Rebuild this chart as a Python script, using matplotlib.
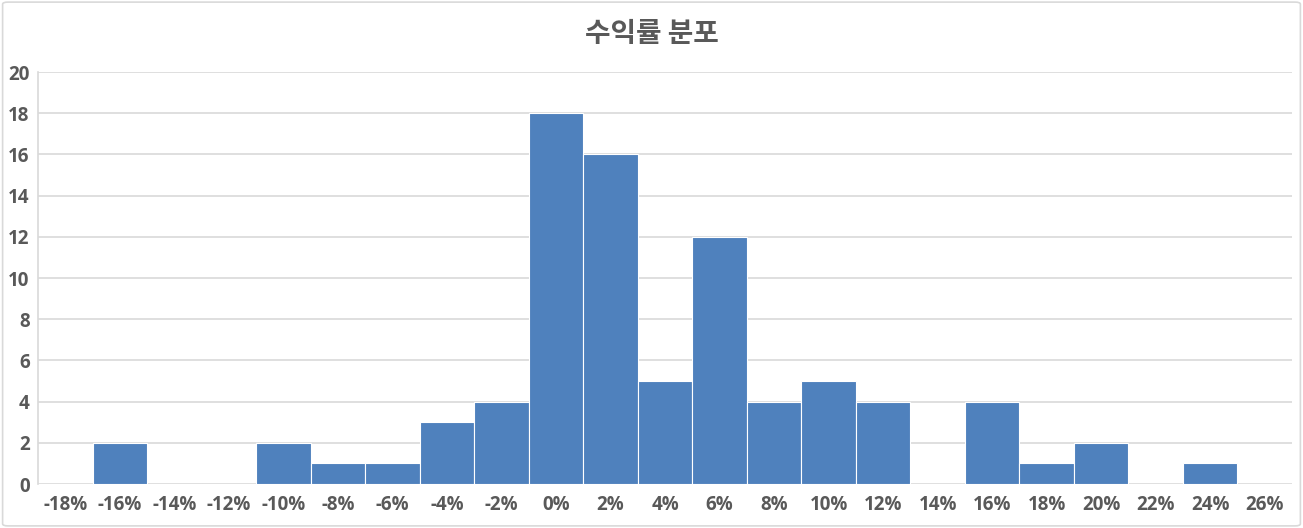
import matplotlib
matplotlib.use("Agg")
import matplotlib.pyplot as plt
from matplotlib.patches import FancyBboxPatch

bins = [-18, -16, -14, -12, -10, -8, -6, -4, -2, 0, 2, 4, 6, 8, 10, 12, 14, 16, 18, 20, 22, 24, 26]
counts = [0, 2, 0, 0, 2, 1, 1, 3, 4, 18, 16, 5, 12, 4, 5, 4, 0, 4, 1, 2, 0, 1, 0]
labels = [f"{b}%" for b in bins]
title = "수익률 분포"

text_color = "#595959"
grid_color = "#D9D9D9"
bar_color = "#4F81BD"

fig = plt.figure(figsize=(13.03, 5.28), dpi=100)
ax = fig.add_axes([38 / 1303, 44 / 528, 1254 / 1303, 412 / 528])

x = list(range(len(bins)))
ax.bar(x, counts, width=1.0, color=bar_color, edgecolor="white", linewidth=0.8, zorder=3)

ax.set_xlim(-0.5, len(bins) - 0.5)
ax.set_ylim(0, 20)
ax.set_yticks(range(0, 21, 2))
ax.set_xticks(x)
ax.set_xticklabels(labels)

for lab in ax.get_xticklabels() + ax.get_yticklabels():
    lab.set_fontfamily("Open Sans")
    lab.set_fontweight("bold")
    lab.set_fontsize(13.5)
    lab.set_color(text_color)

ax.tick_params(axis="both", length=0)
ax.tick_params(axis="x", pad=8)
ax.tick_params(axis="y", pad=6)
ax.yaxis.grid(True, color=grid_color, linewidth=1.2, zorder=0)
ax.set_axisbelow(True)
for side in ["top", "right", "bottom"]:
    ax.spines[side].set_visible(False)
ax.spines["left"].set_color(grid_color)
ax.spines["left"].set_linewidth(1.2)

fig.text(0.5, 1 - 34 / 528, title, ha="center", va="center",
         fontsize=20, fontweight="bold", color=text_color,
         family=["Noto Sans CJK KR", "DejaVu Sans"])

border = FancyBboxPatch((0.002, 0.004), 0.996, 0.992, boxstyle="round,pad=0,rounding_size=0.004",
                        transform=fig.transFigure, fill=False, edgecolor="#D9D9D9", linewidth=1.2)
fig.patches.append(border)

fig.savefig("out.png", dpi=100)
